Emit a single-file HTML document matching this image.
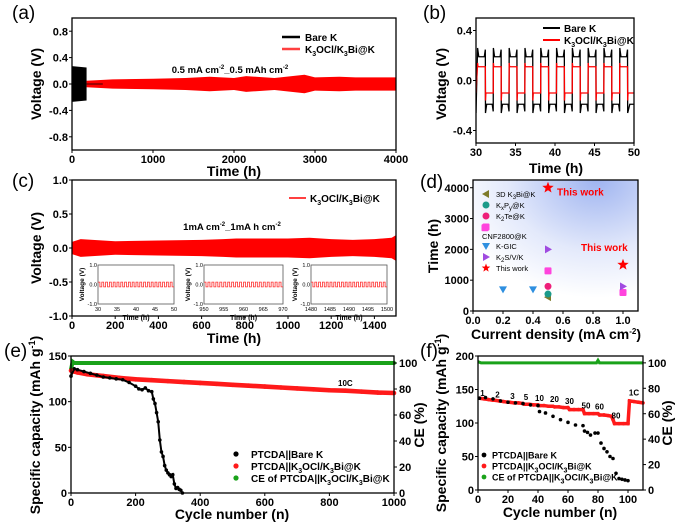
<!DOCTYPE html>
<html><head><meta charset="utf-8"><style>
html,body{margin:0;padding:0;background:#fff;}
svg{display:block;font-family:"Liberation Sans",Arial,sans-serif;font-weight:bold;}
</style></head><body>
<svg id="fig" xmlns="http://www.w3.org/2000/svg" width="678" height="527" viewBox="0 0 678 527">
<defs>
<radialGradient id="dg" cx="0.75" cy="0" r="0.9">
<stop offset="0" stop-color="#9fb4f0"/><stop offset="0.6" stop-color="#e3e9fb"/><stop offset="1" stop-color="#ffffff"/>
</radialGradient>
</defs>
</svg>
<script>
// ---------- DATA ----------
// (a)
const aBlackT=[0,180];
const aBlackAmp=[0.27,0.25];
const aRedT=[180,500,1000,1400,1700,2000,2150,2500,2870,3000,3300,3500,4000];
const aRedAmp=[0.05,0.07,0.08,0.09,0.11,0.09,0.12,0.09,0.14,0.1,0.11,0.1,0.1];
const aTicksX=[0,1000,2000,3000,4000];
const aTicksY=[-0.8,-0.4,0.0,0.4,0.8];
// (b)
const bUpStarts=[30.2,32.2,34.2,36.2,38.2,40.2,42.2,44.2,46.2,48.2];
const bDownStarts=[31.2,33.2,35.2,37.2,39.2,41.2,43.2,45.2,47.2,49.2];
const bBlackEdge=[0.26,-0.26];
const bBlackMid=[0.19,-0.19];
const bRedLevel=[0.11,-0.1];
const bRedSpike=[0.14,-0.16];
const bTicksX=[30,35,40,45,50];
const bTicksY=[-0.4,0.0,0.4];
// (c)
const cT=[0,40,200,400,600,700,760,850,1000,1100,1200,1300,1400,1480,1500];
const cAmp=[0.09,0.13,0.1,0.11,0.12,0.13,0.14,0.14,0.14,0.15,0.13,0.12,0.13,0.15,0.19];
const cTicksX=[0,200,400,600,800,1000,1200,1400];
const cTicksY=[-1.0,-0.5,0.0,0.5,1.0];
const cInsetRanges=[[30,50],[950,970],[1480,1500]];
const cInsetTicks=[[30,35,40,45,50],[950,955,960,965,970],[1480,1485,1490,1495,1500]];
const cInsetLevel=[0.12,-0.12];
// (d)
const dCGIC=[[0.2,700],[0.4,700]];
const dK3Bi=[[0.5,450]];
const dKxPy=[[0.5,550]];
const dK2Te=[[0.5,800]];
const dCNF=[[0.08,2700],[0.5,1300],[1.0,600]];
const dK2S=[[0.5,2000],[1.0,800]];
const dThis=[[0.5,4000],[1.0,1500]];
const dTicksX=[0.0,0.2,0.4,0.6,0.8,1.0];
const dTicksY=[0,1000,2000,3000,4000];
// (e)
const eRedX=[0,10,20,50,100,150,200,250,300,350,400,450,500,550,600,650,700,750,800,850,900,950,1000];
const eRedY=[134,133,132,130,128,126,124.5,123.5,122.5,121.5,120.5,119.5,118.5,117.5,116.5,115.5,114.5,113.5,112.5,112,111,110,109.5];
const eBlackX=[0,10,20,40,60,80,100,120,140,160,180,200,210,220,230,240,250,255,260,265,270,275,280,285,290,295,300,305,310,315,320,325,330,335,340,345];
const eBlackY=[128,136,135,133,131,129,127,126,125,124,121,117,114,113,115,112,111,103,98,88,78,58,45,40,30,25,22,20,18,20,10,5,6,4,3,0];
const eCEX=[0,5,10,200,400,600,800,1000];
const eCEY=[95,101,100,100,100,100,100,100];
const eTicksX=[0,200,400,600,800,1000];
const eTicksY=[0,50,100,150];
const eTicksCE=[0,20,40,60,80,100];
// (f)
const fRedX=[1,4,7,10,11,14,17,20,21,24,27,30,31,34,37,40,41,44,47,50,51,54,57,60,61,64,67,70,71,74,77,80,81,84,87,89,90,91,94,97,100,101,104,107,110];
const fRedY=[137,136,135,134,134,133,132,131,131,130,130,129,128,128,127,127,126,126,125,125,124,124,123,123,120,120,120,120,114,114,114,114,112,112,111,110,105,99,99,99,99,133,132,131,130];
const fBlackX=[1,5,10,15,20,25,30,35,40,41,45,50,55,60,65,70,71,73,75,78,80,82,84,86,88,90,92,94,96,98,100];
const fBlackY=[137,138,136,133,131,130,129,127,126,117,115,110,105,101,97,96,88,86,82,85,85,70,62,57,50,47,25,17,16,15,14];
const fCEX=[0,2,10,40,79,80,81,100,110];
const fCEY=[101,100,100,100,100,102,100,100,100];
const fRateLabels=["1","2","3","5","10","20","30","50","60","80","1C"];
const fRateX=[3,13,23,32,41,51,61,72,81,92,104];
const fRateY=[140,138,136,134,133,131,128,122,120,107,141];
const fTicksX=[0,20,40,60,80,100];
const fTicksY=[0,50,100,150,200];
const fTicksCE=[0,20,40,60,80,100];

// ---------- HELPERS ----------
const svg=document.getElementById('fig');
const NS='http://www.w3.org/2000/svg';
function mk(tag,attrs,parent,text){const e=document.createElementNS(NS,tag);for(const k in attrs)e.setAttribute(k,attrs[k]);if(text!==undefined)e.textContent=text;(parent||svg).appendChild(e);return e;}
function lin(d0,d1,r0,r1){return v=>r0+(v-d0)/(d1-d0)*(r1-r0);}
function fmt(v,d){return v.toFixed(d);}
function grp(name){const g=mk('g',{});return g;}

function frame(g,x0,y0,x1,y1){const r=mk('rect',{x:x0,y:y0,width:x1-x0,height:y1-y0,fill:'none',stroke:'#000','stroke-width':1.3},g);}
function xTicks(g,ticks,sx,yb,dec,fs,len){ticks.forEach(t=>{const x=sx(t);mk('line',{x1:x,x2:x,y1:yb,y2:yb+3,stroke:'#000','stroke-width':1},g);const tx=mk('text',{x:x,y:yb+(fs||11)+2,'text-anchor':'middle','font-size':fs||11},g,fmt(t,dec));});}
function yTicks(g,ticks,sy,xl,dec,fs,side){ticks.forEach(t=>{const y=sy(t);const dir=side==='r'?1:-1;mk('line',{x1:xl,x2:xl+3*dir,y1:y,y2:y,stroke:'#000','stroke-width':1},g);const tx=mk('text',{x:side==='r'?xl+5:xl-4,y:y+(fs||11)*0.37,'text-anchor':side==='r'?'start':'end','font-size':fs||11},g,fmt(t,dec));});}
function vtitle(g,x,y,txt,name,fs){const t=mk('text',{x:x,y:y,'text-anchor':'middle','font-size':fs||14,transform:`rotate(-90 ${x} ${y})`},g);t.innerHTML=txt;return t;}
function htitle(g,x,y,txt,name,fs){const t=mk('text',{x:x,y:y,'text-anchor':'middle','font-size':fs||14},g);t.innerHTML=txt;return t;}
function label(txt,x,y,name){const t=mk('text',{x:x,y:y,'font-size':19,'font-weight':'normal'},svg,txt);}
function band(g,T,A,sx,sy,color,name){let up=T.map((t,i)=>sx(t)+','+sy(A[i]));let dn=T.map((t,i)=>sx(t)+','+sy(-A[i])).reverse();const p=mk('polygon',{points:up.concat(dn).join(' '),fill:color},g);}
const K3='K<tspan font-size="7" dy="3">3</tspan><tspan dy="-3">OCl/K</tspan><tspan font-size="7" dy="3">3</tspan><tspan dy="-3">Bi@K</tspan>';

// ---------- (a) ----------
(function(){const g=grp('panel-a');const X0=72,X1=396,Y0=18,Y1=150;
const sx=lin(0,4000,X0,X1),sy=lin(-1,1,Y1,Y0);
band(g,aRedT,aRedAmp,sx,sy,'#ff0000','red-voltage-band');
band(g,aBlackT,aBlackAmp,sx,sy,'#000','black-voltage-band');
mk('line',{x1:sx(180),x2:sx(380),y1:sy(0),y2:sy(0),stroke:'#000','stroke-width':0.8},g);
frame(g,X0,Y0,X1,Y1);xTicks(g,aTicksX,sx,Y1,0);yTicks(g,aTicksY,sy,X0,1);
vtitle(g,41,84,'Voltage (V)','y-axis-title');htitle(g,234,176,'Time (h)','x-axis-title');
const l1=mk('line',{x1:282,x2:300,y1:37,y2:37,stroke:'#000','stroke-width':2.5},g);
mk('text',{x:305,y:41,'font-size':10},g,'Bare K');
mk('line',{x1:282,x2:300,y1:49,y2:49,stroke:'#ff4040','stroke-width':2.5},g);
mk('text',{x:305,y:53,'font-size':10},g).innerHTML=K3;
htitle(g,230,73,'0.5 mA cm<tspan font-size="6" dy="-4">-2</tspan><tspan dy="4">_0.5 mAh cm</tspan><tspan font-size="6" dy="-4">-2</tspan>','annotation',9.5);
})();
label('(a)',12,19,'panel-label-a');

// ---------- (b) ----------
(function(){const g=grp('panel-b');const X0=476,X1=634,Y0=18,Y1=143;
const sx=lin(30,50,X0,X1),sy=lin(-0.5,0.5,Y1,Y0);
mk('clipPath',{id:'cb'},g);mk('rect',{x:X0,y:Y0,width:X1-X0,height:Y1-Y0},document.getElementById('cb'));
const cg=mk('g',{'clip-path':'url(#cb)'},g);
let pb=[],pr=[];
const starts=[];bUpStarts.forEach(t=>starts.push([t,0]));bDownStarts.forEach(t=>starts.push([t,1]));starts.sort((a,b)=>a[0]-b[0]);
pb.push([sx(30),sy(bBlackEdge[1])]);pr.push([sx(30),sy(bRedLevel[1])]);
starts.forEach((s,i)=>{const t=s[0],k=s[1];const te=i+1<starts.length?starts[i+1][0]:51;const d=te-t;
pb.push([sx(t),sy(bBlackEdge[k])]);pb.push([sx(t+d*0.15),sy(bBlackMid[k])]);pb.push([sx(t+d*0.5),sy(bBlackMid[k])]);pb.push([sx(t+d*0.85),sy(bBlackMid[k])]);pb.push([sx(te-0.02),sy(bBlackEdge[k]*0.95)]);
pr.push([sx(t),sy(bRedSpike[k])]);pr.push([sx(t+0.05),sy(bRedLevel[k])]);pr.push([sx(te-0.02),sy(bRedLevel[k])]);});
const l1=mk('polyline',{points:pb.map(p=>p.join(',')).join(' '),fill:'none',stroke:'#000','stroke-width':1.3},cg);
const l2=mk('polyline',{points:pr.map(p=>p.join(',')).join(' '),fill:'none',stroke:'#ff0000','stroke-width':1.3},cg);
frame(g,X0,Y0,X1,Y1);xTicks(g,bTicksX,sx,Y1,0);yTicks(g,bTicksY,sy,X0,1);
vtitle(g,446,84,'Voltage (V)','y-axis-title');htitle(g,556,173,'Time (h)','x-axis-title');
mk('line',{x1:543,x2:560,y1:28,y2:28,stroke:'#000','stroke-width':2},g);mk('text',{x:564,y:32,'font-size':10},g,'Bare K');
mk('line',{x1:543,x2:560,y1:40,y2:40,stroke:'#ff0000','stroke-width':2},g);mk('text',{x:564,y:44,'font-size':10},g).innerHTML=K3;
})();
label('(b)',423,19,'panel-label-b');

// ---------- (c) ----------
(function(){const g=grp('panel-c');const X0=72,X1=396,Y0=180,Y1=316;
const sx=lin(0,1500,X0,X1),sy=lin(-1,1,Y1,Y0);
band(g,cT,cAmp,sx,sy,'#ff0000','red-voltage-band');
frame(g,X0,Y0,X1,Y1);xTicks(g,cTicksX,sx,Y1,0);yTicks(g,cTicksY,sy,X0,1);
vtitle(g,41,248,'Voltage (V)','y-axis-title');htitle(g,234,343,'Time (h)','x-axis-title');
mk('line',{x1:289,x2:306,y1:198,y2:198,stroke:'#ff4040','stroke-width':2},g);mk('text',{x:310,y:202,'font-size':10},g).innerHTML=K3;
htitle(g,232,230,'1mA cm<tspan font-size="6" dy="-4">-2</tspan><tspan dy="4">_1mA h cm</tspan><tspan font-size="6" dy="-4">-2</tspan>','annotation',9.5);
const boxes=[[98,174],[204,283],[311,387]];
boxes.forEach((b,i)=>{const ig=mk('g',{},g);
const iy0=265,iy1=304;const isx=lin(cInsetRanges[i][0],cInsetRanges[i][1],b[0],b[1]),isy=lin(-1,1,iy1,iy0);
mk('rect',{x:b[0],y:iy0,width:b[1]-b[0],height:iy1-iy0,fill:'#fff',stroke:'#555','stroke-width':0.8},ig);
let pts=[];const r=cInsetRanges[i];for(let t=r[0];t<r[1];t+=1){pts.push(isx(t)+','+isy(cInsetLevel[0]));pts.push(isx(t+0.5)+','+isy(cInsetLevel[0]));pts.push(isx(t+0.5)+','+isy(cInsetLevel[1]));pts.push(isx(t+1)+','+isy(cInsetLevel[1]));}
mk('polyline',{points:pts.join(' '),fill:'none',stroke:'#ff3030','stroke-width':0.8},ig);
cInsetTicks[i].forEach(t=>mk('text',{x:isx(t),y:iy1+7,'text-anchor':'middle','font-size':5.5,'font-weight':'normal'},ig,t));
[[-1,'-1.0'],[0,'0.0'],[1,'1.0']].forEach(v=>mk('text',{x:b[0]-1,y:isy(v[0])+2,'text-anchor':'end','font-size':5.5,'font-weight':'normal'},ig,v[1]));
mk('text',{x:(b[0]+b[1])/2,y:iy1+16,'text-anchor':'middle','font-size':7},ig,'Time (h)');
mk('text',{x:b[0]-14,y:(iy0+iy1)/2,'text-anchor':'middle','font-size':6.5,transform:`rotate(-90 ${b[0]-14} ${(iy0+iy1)/2})`},ig,'Voltage (V)');});
})();
label('(c)',12,187,'panel-label-c');

// ---------- (d) ----------
(function(){const g=grp('panel-d');const X0=473,X1=638,Y0=180,Y1=311;
const sx=lin(0,1.1,X0,X1),sy=lin(0,4250,Y1,Y0);
mk('rect',{x:X0,y:Y0,width:X1-X0,height:Y1-Y0,fill:'url(#dg)'},g);
function tri(x,y,dir,c){let p=dir==='down'?[[x-4,y-3],[x+4,y-3],[x,y+4]]:[[x-3,y-4],[x-3,y+4],[x+4,y]];if(dir==='left')p=[[x+3,y-4],[x+3,y+4],[x-4,y]];return mk('polygon',{points:p.map(q=>q.join(',')).join(' '),fill:c},g);}
function star(x,y,r,c){let p=[];for(let i=0;i<10;i++){const a=-Math.PI/2+i*Math.PI/5,rr=i%2?r*0.42:r;p.push((x+rr*Math.cos(a))+','+(y+rr*Math.sin(a)));}return mk('polygon',{points:p.join(' '),fill:c},g);}
function circ(x,y,c){return mk('circle',{cx:x,cy:y,r:3.5,fill:c},g);}
function sq(x,y,c){return mk('rect',{x:x-3.5,y:y-3.5,width:7,height:7,fill:c,rx:1},g);}
function nm(e,n){}
dCGIC.forEach(p=>nm(tri(sx(p[0]),sy(p[1]),'down','#2e8fe0'),'point-k-gic'));
dK3Bi.forEach(p=>nm(tri(sx(p[0]),sy(p[1]),'left','#7d7a2a'),'point-3d-k3bi'));
dKxPy.forEach(p=>nm(circ(sx(p[0]),sy(p[1]),'#1a9a8a'),'point-kxpy'));
dK2Te.forEach(p=>nm(circ(sx(p[0]),sy(p[1]),'#ee1f7a'),'point-k2te'));
dCNF.forEach(p=>nm(sq(sx(p[0]),sy(p[1]),'#ff44dd'),'point-cnf2800'));
dK2S.forEach(p=>nm(tri(sx(p[0]),sy(p[1]),'right','#a04be0'),'point-k2s-v-k'));
dThis.forEach(p=>nm(star(sx(p[0]),sy(p[1]),6,'#ff0000'),'point-this-work'));
mk('text',{x:sx(0.5)+9,y:sy(4000)+8,'font-size':10,fill:'#ff0000'},g,'This work');
mk('text',{x:sx(0.72),y:sy(1950),'font-size':10,fill:'#ff0000'},g,'This work');
const leg=[['3D K<tspan font-size="6" dy="2">3</tspan><tspan dy="-2">Bi@K</tspan>',194,'#7d7a2a','l'],['K<tspan font-size="6" dy="2">x</tspan><tspan dy="-2">P</tspan><tspan font-size="6" dy="2">y</tspan><tspan dy="-2">@K</tspan>',205,'#1a9a8a','c'],['K<tspan font-size="6" dy="2">2</tspan><tspan dy="-2">Te@K</tspan>',216,'#ee1f7a','c'],['',227,'#ff44dd','s'],['K-GIC',246,'#2e8fe0','d'],['K<tspan font-size="6" dy="2">2</tspan><tspan dy="-2">S/V/K</tspan>',257,'#a04be0','r'],['This work',268,'#ff0000','*']];
leg.forEach(l=>{const x=486,y=l[1];if(l[3]==='l')tri(x,y,'left',l[2]);else if(l[3]==='c')circ(x,y,l[2]);else if(l[3]==='s')sq(x,y,l[2]);else if(l[3]==='d')tri(x,y,'down',l[2]);else if(l[3]==='r')tri(x,y,'right',l[2]);else star(x,y,4.5,l[2]);
if(l[0])mk('text',{x:496,y:y+3,'font-size':7.5,'font-weight':'normal'},g).innerHTML=l[0];});
mk('text',{x:482,y:239,'font-size':7.5,'font-weight':'normal'},g,'CNF2800@K');
frame(g,X0,Y0,X1,Y1);xTicks(g,dTicksX,sx,Y1,1,11);yTicks(g,dTicksY,sy,X0,0,11);
vtitle(g,438,246,'Time (h)','y-axis-title');htitle(g,556,339,'Current density  (mA cm<tspan font-size="8" dy="-5">-2</tspan><tspan dy="5">)</tspan>','x-axis-title');
})();
label('(d)',420,188,'panel-label-d');

// ---------- (e) ----------
(function(){const g=grp('panel-e');const X0=71,X1=394,Y0=356,Y1=493;
const sx=lin(0,1000,X0,X1),sy=lin(0,150,Y1,Y0),sc=lin(0,105.4,Y1,Y0);
function series(X,Y,s,c,name,r,lw){const sg=mk('g',{},g);
mk('polyline',{points:X.map((x,i)=>sx(x)+','+s(Y[i])).join(' '),fill:'none',stroke:c,'stroke-width':lw},sg);
X.forEach((x,i)=>mk('circle',{cx:sx(x),cy:s(Y[i]),r:r,fill:c},sg));}
series(eCEX,eCEY,sc,'#1aa21a','ce-series',2,4);
series(eRedX,eRedY,sy,'#ff1a1a','k3ocl-capacity',2.3,4.6);
series(eBlackX,eBlackY,sy,'#000','bare-k-capacity',1.8,2);
frame(g,X0,Y0,X1,Y1);xTicks(g,eTicksX,sx,Y1,0);yTicks(g,eTicksY,sy,X0,0);yTicks(g,eTicksCE,sc,X1,0,11,'r');
vtitle(g,40,425,'Specific capacity (mAh g<tspan font-size="9" dy="-5">-1</tspan><tspan dy="5">)</tspan>','y-axis-title');
vtitle(g,424,425,'CE (%)','right-y-axis-title');htitle(g,232,519,'Cycle number (n)','x-axis-title');
mk('text',{x:338,y:386,'font-size':8},g,'10C');
[['PTCDA||Bare K',454,'#000'],['PTCDA||'+K3,466,'#ff1a1a'],['CE of PTCDA||'+K3,478,'#1aa21a']].forEach(l=>{mk('circle',{cx:236,cy:l[1],r:2.6,fill:l[2]},g);mk('text',{x:251,y:l[1]+4,'font-size':10},g).innerHTML=l[0];});
})();
label('(e)',4,357,'panel-label-e');

// ---------- (f) ----------
(function(){const g=grp('panel-f');const X0=478,X1=643,Y0=356,Y1=490;
const sx=lin(0,110,X0,X1),sy=lin(0,200,Y1,Y0),sc=lin(0,105.4,Y1,Y0);
function series(X,Y,s,c,name,r){const sg=mk('g',{},g);
X.forEach((x,i)=>mk('circle',{cx:sx(x),cy:s(Y[i]),r:r,fill:c},sg));}
const cg=mk('polyline',{points:fCEX.map((x,i)=>sx(x)+','+sc(fCEY[i])).join(' '),fill:'none',stroke:'#1aa21a','stroke-width':3},g);
const rl=mk('polyline',{points:fRedX.map((x,i)=>sx(x)+','+sy(fRedY[i])).join(' '),fill:'none',stroke:'#ff1a1a','stroke-width':3.5},g);
series(fRedX,fRedY,sy,'#ff1a1a','k3ocl-capacity',1.8);
series(fBlackX,fBlackY,sy,'#000','bare-k-capacity',1.8);
fRateLabels.forEach((t,i)=>mk('text',{x:sx(fRateX[i]),y:sy(fRateY[i]),'text-anchor':'middle','font-size':8},g,t));
frame(g,X0,Y0,X1,Y1);xTicks(g,fTicksX,sx,Y1,0);yTicks(g,fTicksY,sy,X0,0);yTicks(g,fTicksCE,sc,X1,0,11,'r');
vtitle(g,446,423,'Specific capacity (mAh g<tspan font-size="9" dy="-5">-1</tspan><tspan dy="5">)</tspan>','y-axis-title');
vtitle(g,672,423,'CE (%)','right-y-axis-title');htitle(g,560,517,'Cycle number (n)','x-axis-title');
[['PTCDA||Bare K',455,'#000'],['PTCDA||'+K3,466,'#ff1a1a'],['CE of PTCDA||'+K3,477,'#1aa21a']].forEach(l=>{mk('circle',{cx:484,cy:l[1],r:2.4,fill:l[2]},g);mk('text',{x:492,y:l[1]+3.5,'font-size':9},g).innerHTML=l[0];});
})();
label('(f)',420,357,'panel-label-f');
</script>
</body></html>
